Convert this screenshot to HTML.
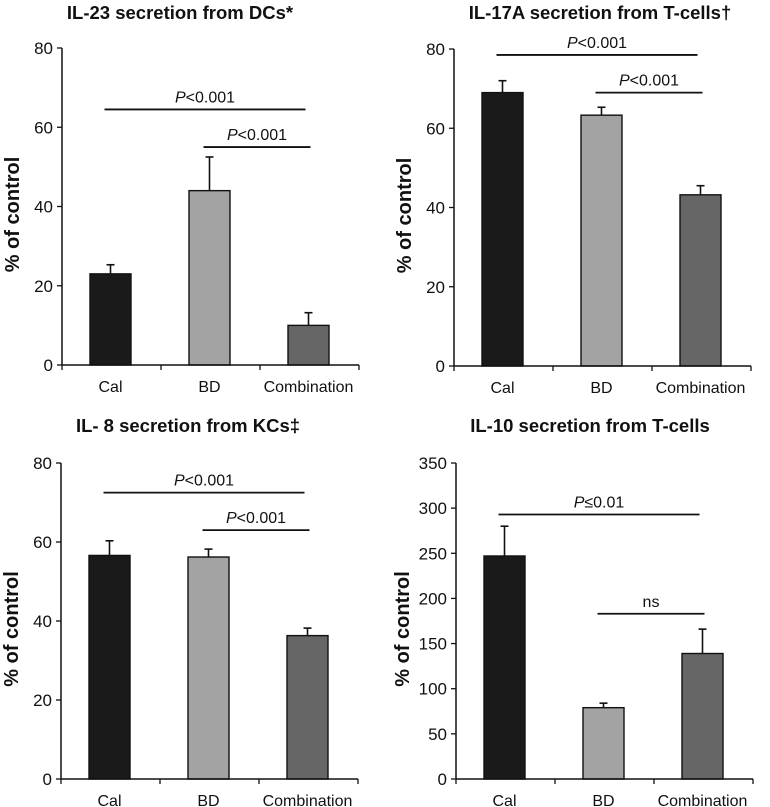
<!DOCTYPE html>
<html><head><meta charset="utf-8">
<style>
html,body{margin:0;padding:0;background:#fff;}
svg{display:block;font-family:"Liberation Sans",Arial,sans-serif;}
</style></head>
<body>
<svg id="fig" width="770" height="807" viewBox="0 0 770 807" xmlns="http://www.w3.org/2000/svg"></svg>
<script>
const categories = ["Cal","BD","Combination"];
const barColors = ["#1a1a1a","#a3a3a3","#666666"];
const titles = ["IL-23 secretion from DCs*","IL-17A secretion from T-cells\u2020","IL- 8 secretion from KCs\u2021","IL-10 secretion from T-cells"];
const p1Values = [23, 44, 10];
const p1ErrTop = [25.3, 52.5, 13.2];
const p2Values = [69, 63.3, 43.2];
const p2ErrTop = [72, 65.3, 45.5];
const p3Values = [56.6, 56.2, 36.3];
const p3ErrTop = [60.3, 58.2, 38.2];
const p4Values = [247, 79, 139];
const p4ErrTop = [280, 84, 166];
const ticks80 = [0,20,40,60,80];
const ticks350 = [0,50,100,150,200,250,300,350];
const p1Sig = [{from:0,to:2,val:64.5,label:"<0.001",p:true},{from:1,to:2,val:55,label:"<0.001",p:true}];
const p2Sig = [{from:0,to:2,val:78.5,label:"<0.001",p:true},{from:1,to:2,val:69,label:"<0.001",p:true}];
const p3Sig = [{from:0,to:2,val:72.5,label:"<0.001",p:true},{from:1,to:2,val:63,label:"<0.001",p:true}];
const p4Sig = [{from:0,to:2,val:293,label:"\u22640.01",p:true},{from:1,to:2,val:183,label:"ns",p:false}];

const NS="http://www.w3.org/2000/svg";
const svg=document.getElementById('fig');
function mk(tag,attrs,parent){const e=document.createElementNS(NS,tag);for(const k in attrs)e.setAttribute(k,attrs[k]);(parent||svg).appendChild(e);return e;}

function panel(idx,cfg){
  const g=mk('g',{});
  
  
  const ax=cfg.ax, y0=cfg.y0, yt=cfg.yt, max=cfg.ticks[cfg.ticks.length-1];
  const ys=v=>y0-(v/max)*(y0-yt);
  const cw=99;
  const xs=i=>ax+cw*i+cw/2-1;
  const t=mk('text',{x:cfg.tx,y:cfg.ty,'text-anchor':'middle','font-size':18.5,'font-weight':'bold',fill:'#111'},g);
  t.textContent=titles[idx];
  
  
  const yl=mk('text',{x:0,y:0,transform:`translate(${cfg.ylx},${(y0+yt)/2+8}) rotate(-90)`,'text-anchor':'middle','font-size':20,'font-weight':'bold',fill:'#111'},g);
  yl.textContent='% of control';
  
  
  cfg.values.forEach((v,i)=>{
    const cx=xs(i);
    const e=mk('line',{x1:cx,x2:cx,y1:ys(v),y2:ys(cfg.err[i]),stroke:'#111','stroke-width':1.6},g);
    
    
    const c=mk('line',{x1:cx-4,x2:cx+4,y1:ys(cfg.err[i]),y2:ys(cfg.err[i]),stroke:'#111','stroke-width':1.6},g);
    
    
    const r=mk('rect',{x:cx-20.5,y:ys(v),width:41,height:y0-ys(v),fill:barColors[i],stroke:'#111','stroke-width':1.4},g);
    
    
    const l=mk('text',{x:cx,y:y0+27,'text-anchor':'middle','font-size':16,fill:'#111'},g);
    l.textContent=categories[i];
    
    
  });
  const ya=mk('line',{x1:ax,x2:ax,y1:yt,y2:y0,stroke:'#111','stroke-width':1.5},g);
  
  
  const xa=mk('line',{x1:ax,x2:ax+cw*3,y1:y0,y2:y0,stroke:'#111','stroke-width':1.5},g);
  
  
  for(let i=0;i<=3;i++){
    const tk=mk('line',{x1:ax+cw*i,x2:ax+cw*i,y1:y0,y2:y0+5,stroke:'#111','stroke-width':1.3},g);
    
    
  }
  cfg.ticks.forEach(v=>{
    const tk=mk('line',{x1:ax-5,x2:ax,y1:ys(v),y2:ys(v),stroke:'#111','stroke-width':1.3},g);
    
    
    const tl=mk('text',{x:ax-9,y:ys(v)+6,'text-anchor':'end','font-size':17,fill:'#111'},g);
    tl.textContent=v;
    
    
  });
  cfg.sig.forEach(s=>{
    const x1=xs(s.from)-6, x2=xs(s.to)+(s.from===0?-3:2);
    const ln=mk('line',{x1:x1,x2:x2,y1:ys(s.val),y2:ys(s.val),stroke:'#111','stroke-width':1.8},g);
    
    
    const tx=mk('text',{x:(x1+x2)/2,y:ys(s.val)-7,'text-anchor':'middle','font-size':16,fill:'#111'},g);
    if(s.p){const ts=mk('tspan',{'font-style':'italic'},tx);ts.textContent='P';const t2=mk('tspan',{},tx);t2.textContent=s.label;}
    else tx.textContent=s.label;
    
    
  });
}
panel(0,{ax:62,y0:365,yt:48,ticks:ticks80,values:p1Values,err:p1ErrTop,sig:p1Sig,tx:180,ty:19,ylx:19});
panel(1,{ax:454,y0:366,yt:49,ticks:ticks80,values:p2Values,err:p2ErrTop,sig:p2Sig,tx:600,ty:19,ylx:411});
panel(2,{ax:61,y0:779,yt:463,ticks:ticks80,values:p3Values,err:p3ErrTop,sig:p3Sig,tx:188,ty:432,ylx:18});
panel(3,{ax:456,y0:779,yt:463,ticks:ticks350,values:p4Values,err:p4ErrTop,sig:p4Sig,tx:590,ty:432,ylx:409});
</script>
</body></html>
